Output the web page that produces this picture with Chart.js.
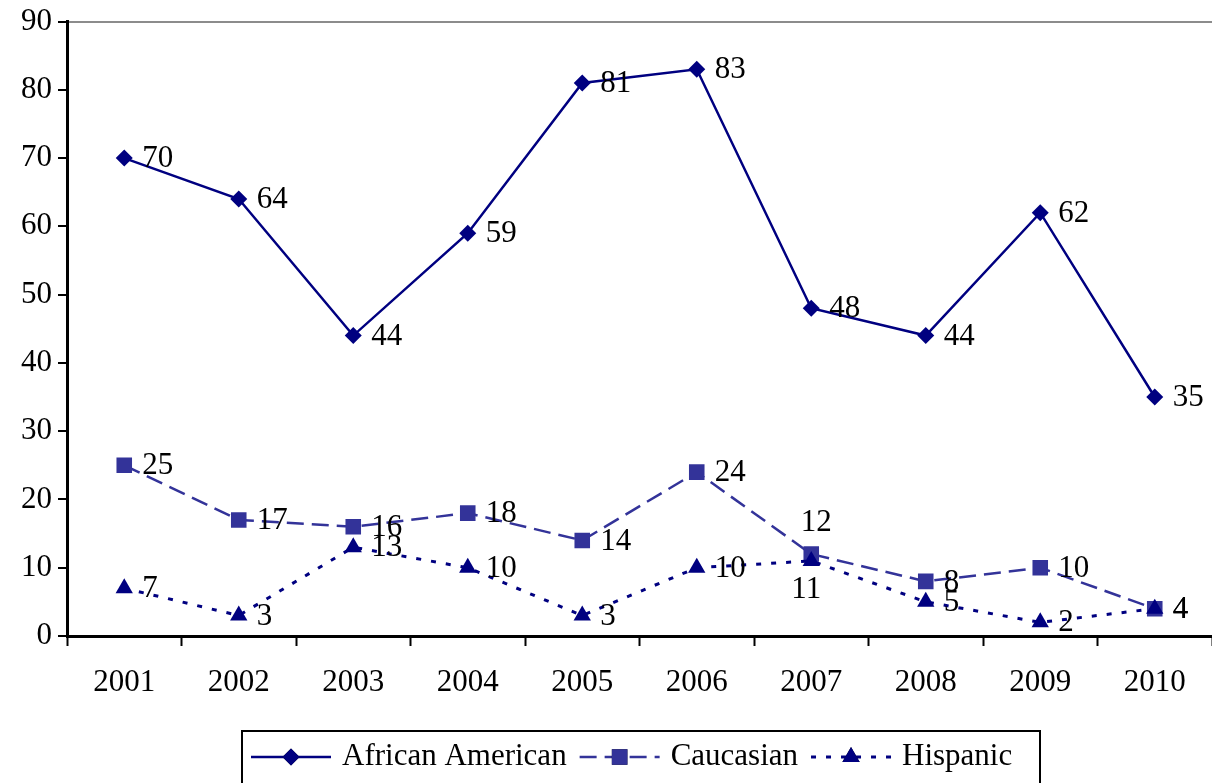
<!DOCTYPE html>
<html>
<head>
<meta charset="utf-8">
<script src="https://cdn.jsdelivr.net/npm/chart.js@4/dist/chart.umd.min.js"></script>
<style>
  html, body { margin: 0; padding: 0; background: #fff; overflow: hidden; }
  #wrap { width: 1223px; height: 783px; position: relative; }
</style>
</head>
<body>
<div id="wrap"><canvas id="raceChart"></canvas></div>
<script>
// values
var years = ['2001', '2002', '2003', '2004', '2005', '2006', '2007', '2008', '2009', '2010'];
var africanAmerican = [70, 64, 44, 59, 81, 83, 48, 44, 62, 35];
var caucasian = [25, 17, 16, 18, 14, 24, 12, 8, 10, 4];
var hispanic = [7, 3, 13, 10, 3, 10, 11, 5, 2, 4];
var yTicks = [0, 10, 20, 30, 40, 50, 60, 70, 80, 90];

var serif = '"Liberation Serif", "Times New Roman", serif';
var navy = '#000080';
var blue = '#333399';

// a few labels sit above / below the point instead of to the right
var labelPlace = { '1-6': 'above', '2-6': 'below' };

var pointLabels = {
    id: 'pointLabels',
    afterDatasetsDraw: function (chart) {
        var ctx = chart.ctx;
        ctx.save();
        ctx.font = '31px ' + serif;
        ctx.fillStyle = '#000';
        chart.data.datasets.forEach(function (ds, di) {
            var meta = chart.getDatasetMeta(di);
            meta.data.forEach(function (pt, i) {
                var txt = String(ds.data[i]);
                var place = labelPlace[di + '-' + i];
                if (place === 'above') {
                    ctx.textAlign = 'center';
                    ctx.textBaseline = 'middle';
                    ctx.fillText(txt, pt.x + 5, pt.y - 31);
                } else if (place === 'below') {
                    ctx.textAlign = 'center';
                    ctx.textBaseline = 'middle';
                    ctx.fillText(txt, pt.x - 5, pt.y + 29);
                } else {
                    ctx.textAlign = 'left';
                    ctx.textBaseline = 'middle';
                    ctx.fillText(txt, pt.x + 18, pt.y + 1);
                }
            });
        });
        ctx.restore();
    }
};

// legend box drawn by hand: line sample + marker + name
var boxLegend = {
    id: 'boxLegend',
    afterDraw: function (chart) {
        var ctx = chart.ctx;
        ctx.save();
        ctx.strokeStyle = '#000';
        ctx.lineWidth = 2;
        ctx.strokeRect(242, 731, 798, 70);
        ctx.font = '31px ' + serif;
        ctx.textBaseline = 'middle';
        ctx.textAlign = 'left';
        var y = 757;
        var x = 251;
        chart.data.datasets.forEach(function (ds) {
            ctx.strokeStyle = ds.borderColor;
            ctx.lineWidth = ds.borderWidth;
            ctx.setLineDash(ds.borderDash || []);
            ctx.beginPath();
            ctx.moveTo(x, y);
            ctx.lineTo(x + 80, y);
            ctx.stroke();
            ctx.setLineDash([]);
            Chart.helpers.drawPoint(ctx, {
                pointStyle: ds.pointStyle,
                radius: ds.pointRadius,
                borderWidth: 0
            }, x + 40, y);
            ctx.fillStyle = ds.pointBackgroundColor;
            ctx.fill();
            ctx.fillStyle = '#000';
            ctx.fillText(ds.label, x + 91, y);
            x += 91 + ctx.measureText(ds.label).width + 13;
        });
        ctx.restore();
    }
};

var ctxRace = document.getElementById('raceChart').getContext('2d');
var raceChart = new Chart(ctxRace, {
    type: 'line',
    data: {
        labels: years,
        datasets: [
            {
                label: 'African American',
                data: africanAmerican,
                borderColor: navy,
                borderWidth: 2.5,
                pointStyle: 'rectRot',
                pointRadius: 8.5,
                pointBackgroundColor: navy,
                pointBorderWidth: 0,
                order: 2
            },
            {
                label: 'Caucasian',
                data: caucasian,
                borderColor: blue,
                borderWidth: 2.5,
                borderDash: [17, 8],
                pointStyle: 'rect',
                pointRadius: 11,
                pointBackgroundColor: blue,
                pointBorderWidth: 0,
                order: 1
            },
            {
                label: 'Hispanic',
                data: hispanic,
                borderColor: navy,
                borderWidth: 3,
                borderDash: [5, 10],
                pointStyle: 'triangle',
                pointRadius: 10,
                pointBackgroundColor: navy,
                pointBorderWidth: 0,
                order: 0
            }
        ]
    },
    options: {
        responsive: true,
        maintainAspectRatio: false,
        animation: false,
        layout: { padding: { top: 20, right: 0, left: 0, bottom: 0 } },
        plugins: {
            legend: { display: false },
            tooltip: { enabled: false }
        },
        elements: { line: { tension: 0 } },
        scales: {
            x: {
                offset: true,
                afterFit: function (s) { s.height = 147; },
                border: { display: true, color: '#000', width: 3 },
                grid: {
                    offset: true,
                    drawOnChartArea: false,
                    tickLength: 10,
                    tickColor: '#000',
                    tickWidth: 2
                },
                ticks: {
                    color: '#000',
                    padding: 18,
                    maxRotation: 0,
                    font: { family: serif, size: 31 }
                }
            },
            y: {
                min: 0,
                max: 90,
                afterFit: function (s) { s.width = 67; },
                afterBuildTicks: function (s) {
                    s.ticks = yTicks.map(function (v) { return { value: v }; });
                },
                border: { display: true, color: '#000', width: 3 },
                grid: {
                    color: function (c) {
                        return c.tick && c.tick.value === 90 ? '#8c8c8c' : 'rgba(0,0,0,0)';
                    },
                    lineWidth: 2,
                    tickLength: 9,
                    tickColor: '#000',
                    tickWidth: 2
                },
                ticks: {
                    color: '#000',
                    padding: 6,
                    font: { family: serif, size: 31, lineHeight: 1 }
                }
            }
        }
    },
    plugins: [pointLabels, boxLegend]
});
</script>
</body>
</html>
